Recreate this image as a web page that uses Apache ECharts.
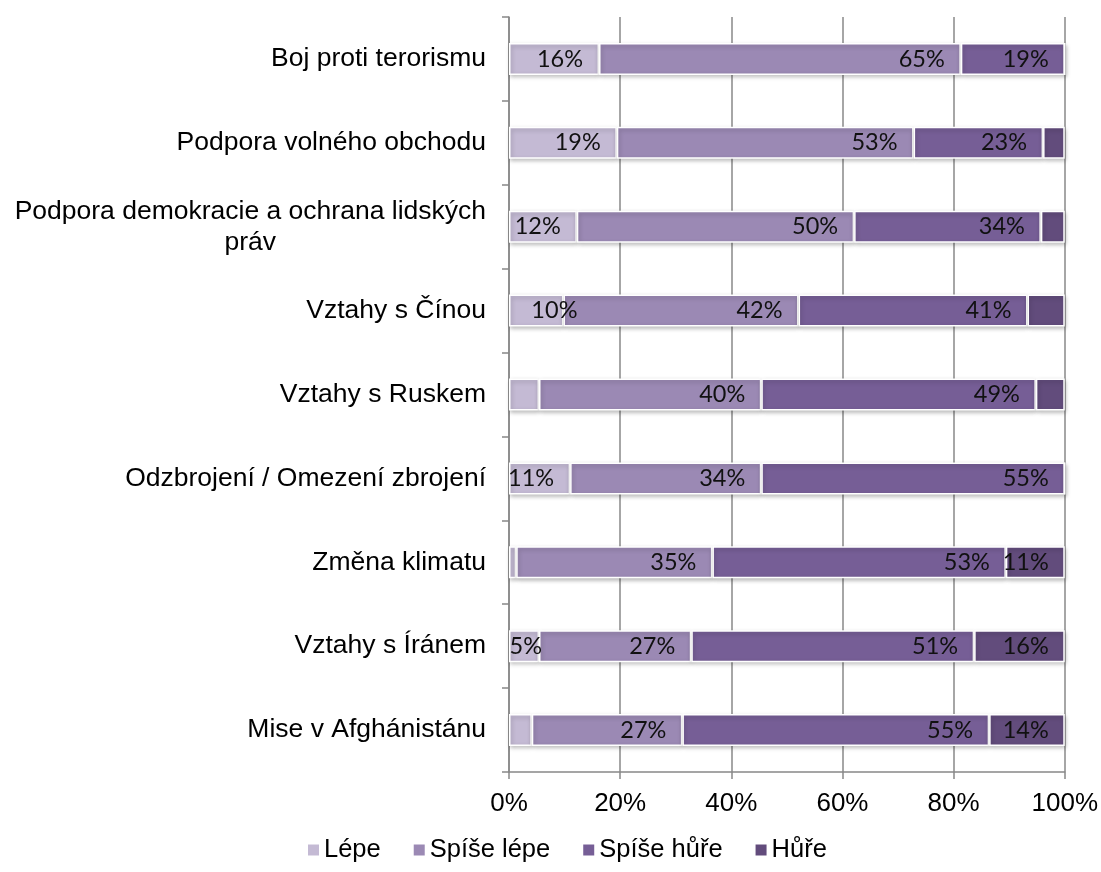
<!DOCTYPE html>
<html>
<head>
<meta charset="utf-8">
<script src="https://cdn.jsdelivr.net/npm/echarts@6/dist/echarts.min.js"></script>
<style>
  html, body { margin: 0; padding: 0; background: #fff; }
  #chart { width: 1101px; height: 872px; }
</style>
</head>
<body>
<div id="chart"></div>
<script>
// kategorie shora dolů
var categories = [
  'Boj proti terorismu',
  'Podpora volného obchodu',
  'Podpora demokracie a ochrana lidských práv',
  'Vztahy s Čínou',
  'Vztahy s Ruskem',
  'Odzbrojení / Omezení zbrojení',
  'Změna klimatu',
  'Vztahy s Íránem',
  'Mise v Afghánistánu'
];
var seriesNames = ['Lépe', 'Spíše lépe', 'Spíše hůře', 'Hůře'];
var lepe      = [16.2, 19.4, 12.2,  9.8,  5.4, 11.0,  1.3,  5.4,  4.1];
var spiseLepe = [65.1, 53.4, 49.9, 42.3, 40.0, 34.4, 35.3, 27.4, 27.1];
var spiseHure = [18.7, 23.3, 33.6, 41.2, 49.4, 54.6, 52.8, 50.9, 55.2];
var hure      = [ 0.0,  3.9,  4.3,  6.7,  5.2,  0.0, 10.6, 16.3, 13.6];
var xTicks = [0, 20, 40, 60, 80, 100];

var colors = ['#c4bad4', '#9b89b4', '#765e96', '#624c7c'];
var allValues = [lepe, spiseLepe, spiseHure, hure];

// malé popisky, které jsou v grafu přesto vidět: [série, řádek]
var extraLabels = [[0, 7]];
var labelShift = { '0-3': 30, '0-7': 19 };

function buildData(s) {
  return allValues[s].map(function (v, i) {
    var show = v >= 9.5;
    extraLabels.forEach(function (e) { if (e[0] === s && e[1] === i) show = true; });
    var item = { value: v, label: { show: show } };
    var sh = labelShift[s + '-' + i];
    if (sh) item.label.offset = [sh, 0];
    return item;
  });
}

var myChart = echarts.init(document.getElementById('chart'));

var option = {
  animation: false,
  color: colors,
  grid: { left: 509, right: 35, top: 17, bottom: 100 },
  legend: {
    bottom: 4,
    left: 301,
    icon: 'rect',
    itemWidth: 13,
    itemHeight: 13,
    itemGap: 31,
    textStyle: { fontFamily: 'Liberation Sans', fontSize: 25.5, color: '#000', padding: [0, 0, 0, -1] },
    data: seriesNames
  },
  xAxis: {
    type: 'value',
    min: 0,
    max: 100,
    interval: 20,
    axisLine: { show: true, lineStyle: { color: '#888', width: 1.5 } },
    axisTick: { show: true, length: 7, lineStyle: { color: '#888', width: 1.5 } },
    splitLine: { show: true, lineStyle: { color: '#888', width: 1.5 } },
    axisLabel: {
      margin: 19,
      fontFamily: 'Liberation Sans',
      fontSize: 26,
      color: '#000',
      formatter: function (v) { return xTicks.indexOf(v) >= 0 ? v + '%' : ''; }
    }
  },
  yAxis: {
    type: 'category',
    inverse: true,
    data: categories,
    axisLine: { show: true, lineStyle: { color: '#888', width: 1.5 } },
    axisTick: { show: true, length: 7, lineStyle: { color: '#888', width: 1.5 } },
    axisLabel: {
      margin: 23,
      color: '#000',
      fontFamily: 'Liberation Sans',
      fontSize: 26.5,
      formatter: function (v) {
        if (v.indexOf('lidských') >= 0) {
          return '{c|Podpora demokracie a ochrana lidských}\n{c|práv}';
        }
        return v;
      },
      rich: {
        c: { align: 'center', fontFamily: 'Liberation Sans', fontSize: 26.5, color: '#000', lineHeight: 31 }
      }
    }
  },
  series: seriesNames.map(function (name, s) {
    return {
      name: name,
      type: 'bar',
      stack: 'total',
      barWidth: 32,
      data: buildData(s),
      itemStyle: {
        borderColor: '#fff',
        borderWidth: 1.5,
        shadowColor: 'rgba(0,0,0,0.25)',
        shadowBlur: 4,
        shadowOffsetX: 1,
        shadowOffsetY: 2
      },
      label: {
        position: 'insideRight',
        distance: 16,
        fontFamily: 'Lato',
        fontSize: 23.5,
        color: '#111',
        formatter: function (p) { return Math.round(p.value) + '%'; }
      }
    };
  })
};

myChart.setOption(option);
</script>
</body>
</html>
